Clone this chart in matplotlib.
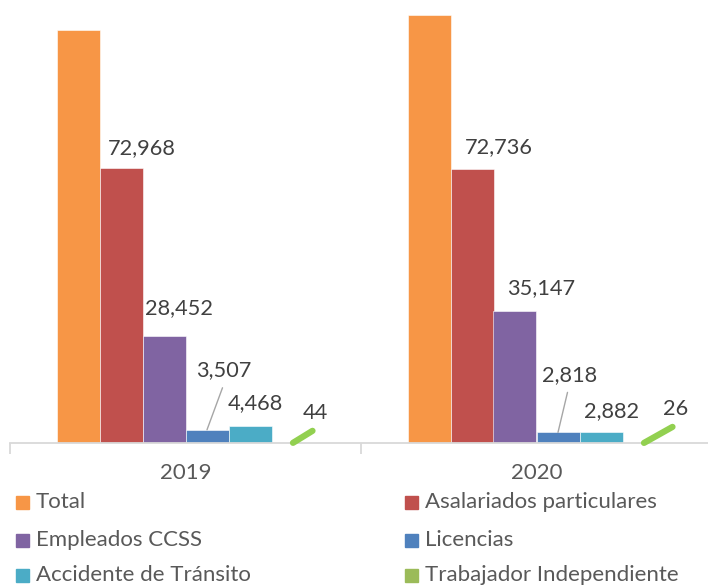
import matplotlib.pyplot as plt
from matplotlib.patches import Rectangle

# data
years = ["2019", "2020"]
series = ["Total", "Asalariados particulares", "Empleados CCSS",
          "Licencias", "Accidente de Tránsito", "Trabajador Independiente"]
total = [109439, 113609]
asalariados = [72968, 72736]
empleados = [28452, 35147]
licencias = [3507, 2818]
accidente = [4468, 2882]
independiente = [44, 26]

colors = ["#F79646", "#C0504D", "#8064A2", "#4F81BD", "#4BACC6", "#9BBB59"]
txt = "#404040"

plt.rcParams['font.family'] = ['Lato', 'DejaVu Sans']

fig = plt.figure(figsize=(7.08, 5.87), dpi=100)
W, H = 708, 587
ax = fig.add_axes([10 / W, (H - 443) / H, 702 / W, 443 / H])

values = [total, asalariados, empleados, licencias, accidente, independiente]
bw = 43 / 351
for i, vals in enumerate(values):
    xs = [g + (i - 2.5) * bw for g in range(len(years))]
    if i == 5:
        continue  # tiny bars, shown only by the green leader line
    ax.bar(xs, vals, width=bw, color=colors[i], edgecolor="white", linewidth=0.4)

# label offsets in pixels (dx, dy) from the top centre of each bar
offsets = {
    1: [(20.5, 20), (26.5, 22)],
    2: [(14.5, 28), (26.5, 22)],
    3: [(16.5, 60), (11.5, 57)],
    4: [(5.5, 23), (10.5, 21)],
    5: [(22.5, 30), (31.5, 34)],
}
leaders = {
    3: [(15.5, 42), (9.5, 40)],
    5: [(19.5, 12), (28.5, 16)],
}
for i in range(1, 6):
    vals = values[i]
    for g in range(len(years)):
        x = g + (i - 2.5) * bw
        dx, dy = offsets[i][g]
        ax.annotate(f"{vals[g]:,}", xy=(x, vals[g]), xytext=(dx, dy),
                    textcoords="offset pixels", ha="center", va="center",
                    fontsize=15.7, color=txt)
        if i in leaders:
            lx, ly = leaders[i][g]
            if i == 5:
                style = dict(arrowstyle="-", color="#92D050", lw=4.5,
                             shrinkA=0, shrinkB=0)
            else:
                style = dict(arrowstyle="-", color="#A6A6A6", lw=1,
                             shrinkA=0, shrinkB=0)
            ax.annotate("", xy=(x, vals[g]), xytext=(lx, ly),
                        textcoords="offset pixels", arrowprops=style)

ax.set_xlim(-0.5, 1.5)
ax.set_ylim(0, 443 * 265.3)
for s in ["top", "right", "left"]:
    ax.spines[s].set_visible(False)
ax.spines["bottom"].set_color("#D9D9D9")
ax.spines["bottom"].set_linewidth(1.3)
ax.set_yticks([])
ax.set_xticks([-0.5, 0.5, 1.5])
ax.set_xticklabels([])
ax.tick_params(axis="x", length=8, width=1.3, color="#D9D9D9")
for g, y in enumerate(years):
    ax.annotate(y, xy=(g, 0), xytext=(0, -30), textcoords="offset pixels",
                ha="center", va="center", fontsize=16, color="#595959")

# legend, laid out row by row as in the original
legend_pos = [(16, 502), (405, 502), (16, 540), (405, 540), (16, 575), (405, 575)]
for i, name in enumerate(series):
    mx, my = legend_pos[i]
    fig.patches.append(Rectangle((mx / W, (H - my - 6.5) / H), 13 / W, 13 / H,
                                 transform=fig.transFigure, color=colors[i]))
    fig.text((mx + 20) / W, (H - my) / H, name, ha="left", va="center",
             fontsize=16, color="#595959")

fig.savefig("out.png", dpi=100)
